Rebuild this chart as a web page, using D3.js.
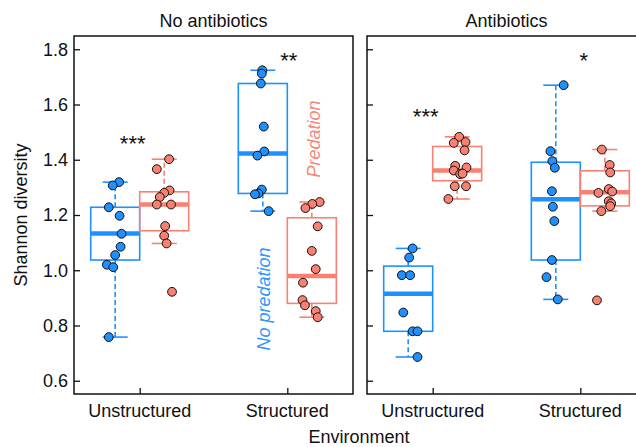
<!DOCTYPE html>
<html>
<head>
<meta charset="utf-8">
<script src="https://cdn.jsdelivr.net/npm/d3@7"></script>
<style>
  html, body { margin: 0; padding: 0; background: #fff; }
  svg { display: block; }
  text { font-family: "Liberation Sans", Arial, Helvetica, sans-serif; }
</style>
</head>
<body>
<svg id="chart" width="636" height="447"></svg>
<script>
// ---------------- data ----------------
const panels = ["No antibiotics", "Antibiotics"];
const environments = ["Unstructured", "Structured"];
const treatments = ["No predation", "Predation"];
const yTicks = [0.6, 0.8, 1.0, 1.2, 1.4, 1.6, 1.8];

// Shannon diversity of each replicate
const noAbUnstrNoPred = [1.319, 1.307, 1.228, 1.197, 1.132, 1.085, 1.055, 1.020, 1.011, 0.758];
const noAbUnstrPred   = [1.402, 1.366, 1.289, 1.280, 1.265, 1.238, 1.238, 1.160, 1.125, 1.097, 0.922];
const noAbStrNoPred   = [1.724, 1.712, 1.676, 1.520, 1.430, 1.415, 1.292, 1.278, 1.275, 1.214];
const noAbStrPred     = [1.247, 1.240, 1.225, 1.159, 1.070, 1.004, 0.955, 0.892, 0.873, 0.852, 0.830];
const abUnstrNoPred   = [1.079, 1.046, 0.982, 0.982, 0.847, 0.779, 0.779, 0.686];
const abUnstrPred     = [1.483, 1.461, 1.464, 1.434, 1.378, 1.372, 1.361, 1.348, 1.350, 1.304, 1.304, 1.258];
const abStrNoPred     = [1.670, 1.431, 1.395, 1.371, 1.286, 1.230, 1.178, 1.037, 0.975, 0.8945];
const abStrPred       = [1.437, 1.381, 1.354, 1.294, 1.280, 1.285, 1.250, 1.242, 1.232, 1.214, 0.891];

// horizontal jitter of each replicate (fraction of box width)
const jitNoAbUnstrNoPred = [0.08, -0.05, -0.13, 0.09, 0.13, 0.11, 0.0, -0.17, -0.04, -0.13];
const jitNoAbUnstrPred   = [0.10, -0.15, 0.11, 0.0, -0.09, -0.15, 0.14, 0.02, 0.0, 0.05, 0.16];
const jitNoAbStrNoPred   = [-0.01, -0.02, -0.04, 0.02, 0.03, -0.11, -0.02, -0.09, -0.16, 0.12];
const jitNoAbStrPred     = [0.16, 0.01, -0.13, 0.12, 0.0, 0.08, -0.18, -0.19, -0.14, 0.08, 0.12];
const jitAbUnstrNoPred   = [0.09, 0.02, -0.13, 0.04, -0.10, 0.09, 0.19, 0.19];
const jitAbUnstrPred     = [0.04, -0.07, 0.17, 0.15, -0.04, 0.19, -0.07, 0.06, 0.11, -0.05, 0.18, -0.18];
const jitAbStrNoPred     = [0.16, -0.11, -0.07, -0.02, -0.08, -0.06, -0.03, -0.08, -0.19, 0.04];
const jitAbStrPred       = [-0.06, 0.10, 0.11, 0.08, -0.13, 0.15, 0.08, 0.13, 0.11, -0.07, -0.16];

// box statistics, groups in order: panel x environment x treatment
const whiskerLow  = [0.758, 1.097, 1.214, 0.830, 0.686, 1.258, 0.8945, 1.214];
const quart1      = [1.037, 1.143, 1.278, 0.880, 0.779, 1.324, 1.037, 1.233];
const medians     = [1.133, 1.238, 1.423, 0.979, 0.915, 1.361, 1.257, 1.282];
const quart3      = [1.228, 1.284, 1.676, 1.190, 1.015, 1.448, 1.391, 1.360];
const whiskerHigh = [1.319, 1.402, 1.724, 1.247, 1.079, 1.483, 1.670, 1.437];

// significance labels (panel x environment)
const sigLabels = ["***", "**", "***", "*"];
const sigValue  = [1.478, 1.778, 1.576, 1.778];

// ---------------- build groups ----------------
const values = [noAbUnstrNoPred, noAbUnstrPred, noAbStrNoPred, noAbStrPred,
                abUnstrNoPred, abUnstrPred, abStrNoPred, abStrPred];
const jitters = [jitNoAbUnstrNoPred, jitNoAbUnstrPred, jitNoAbStrNoPred, jitNoAbStrPred,
                 jitAbUnstrNoPred, jitAbUnstrPred, jitAbStrNoPred, jitAbStrPred];
const groups = [];
let gi = 0;
panels.forEach(p => environments.forEach(e => treatments.forEach(t => {
  groups.push({panel: p, env: e, trt: t, vals: values[gi], jit: jitters[gi],
    lo: whiskerLow[gi], q1: quart1[gi], med: medians[gi], q3: quart3[gi], hi: whiskerHigh[gi]});
  gi++;
})));

// ---------------- layout ----------------
const svg = d3.select("#chart");
const plotTop = 36, plotBottom = 394;
const panelW = 279, panelGap = 14, left0 = 74;
const colors = {"No predation": "#1E90FF", "Predation": "#FA8072"};
const textColors = {"No predation": "#2E96FF", "Predation": "#F6877B"};
const fontSize = 18;

const panelX = d3.scaleBand().domain(panels)
  .range([left0, left0 + 2 * panelW + panelGap])
  .paddingInner(panelGap / (panelW + panelGap)).paddingOuter(0);

const y = d3.scaleLinear().domain([0.552, 1.848]).range([plotBottom, plotTop]);
const envX = d3.scalePoint().domain(environments).range([0, panelW]).padding(0.445);
const boxW = 49;
const trtX = d3.scaleBand().domain(treatments).range([-boxW, boxW]).padding(0);

// axis titles
svg.append("text").attr("transform", "translate(27,215) rotate(-90)")
  .attr("text-anchor", "middle").attr("font-size", fontSize).attr("fill", "#111")
  .text("Shannon diversity");
svg.append("text").attr("x", 359).attr("y", 443)
  .attr("text-anchor", "middle").attr("font-size", fontSize).attr("fill", "#111")
  .text("Environment");

const sigDx = [[-7, 1.5], [-7, 3.5]];

panels.forEach((p, pi) => {
  const px = panelX(p);
  const g = svg.append("g").attr("transform", `translate(${px},0)`);

  // panel title
  g.append("text").attr("x", panelW / 2).attr("y", 27)
    .attr("text-anchor", "middle").attr("font-size", fontSize).attr("fill", "#111").text(p);

  // y axis (ticks inward)
  const yAxis = d3.axisRight(y).tickValues(yTicks).tickSize(6).tickFormat("");
  const ya = g.append("g").call(yAxis);
  ya.select(".domain").remove();
  ya.selectAll("line").attr("stroke", "#111").attr("stroke-width", 1.3);
  if (pi === 0) {
    g.append("g").selectAll("text").data(yTicks).join("text")
      .attr("x", -6).attr("y", d => y(d)).attr("dy", "0.36em")
      .attr("text-anchor", "end").attr("font-size", fontSize).attr("fill", "#111")
      .text(d3.format(".1f"));
  }

  // x axis (ticks inward)
  const xAxis = d3.axisTop(envX).tickSize(6).tickFormat("");
  const xa = g.append("g").attr("transform", `translate(0,${plotBottom})`).call(xAxis);
  xa.select(".domain").remove();
  xa.selectAll("line").attr("stroke", "#111").attr("stroke-width", 1.3);
  g.append("g").selectAll("text").data(environments).join("text")
    .attr("x", d => envX(d)).attr("y", 417)
    .attr("text-anchor", "middle").attr("font-size", fontSize).attr("fill", "#111")
    .text(d => d);

  // frame
  g.append("rect").attr("x", 0).attr("y", plotTop).attr("width", panelW).attr("height", plotBottom - plotTop)
    .attr("fill", "none").attr("stroke", "#111").attr("stroke-width", 1.5);

  // boxes
  const pg = groups.filter(d => d.panel === p);
  pg.forEach(d => {
    const x0 = envX(d.env) + trtX(d.trt);
    const cx = x0 + trtX.bandwidth() / 2;
    const col = colors[d.trt];
    const bg = g.append("g");
    bg.append("line").attr("x1", cx).attr("x2", cx).attr("y1", y(d.q3)).attr("y2", y(d.hi))
      .attr("stroke", col).attr("stroke-width", 1.6).attr("stroke-dasharray", "5,3");
    bg.append("line").attr("x1", cx).attr("x2", cx).attr("y1", y(d.q1)).attr("y2", y(d.lo))
      .attr("stroke", col).attr("stroke-width", 1.6).attr("stroke-dasharray", "5,3");
    [d.hi, d.lo].forEach(v => {
      bg.append("line").attr("x1", cx - 12.5).attr("x2", cx + 12.5).attr("y1", y(v)).attr("y2", y(v))
        .attr("stroke", col).attr("stroke-width", 1.6);
    });
    bg.append("rect").attr("x", x0).attr("y", y(d.q3)).attr("width", trtX.bandwidth())
      .attr("height", y(d.q1) - y(d.q3)).attr("fill", "none")
      .attr("stroke", col).attr("stroke-width", 1.6);
    bg.append("line").attr("x1", x0).attr("x2", x0 + trtX.bandwidth()).attr("y1", y(d.med)).attr("y2", y(d.med))
      .attr("stroke", col).attr("stroke-width", 4.5);
  });

  // points
  pg.forEach(d => {
    const cx = envX(d.env) + trtX(d.trt) + trtX.bandwidth() / 2;
    g.append("g").selectAll("circle").data(d.vals.map((v, i) => ({v, j: d.jit[i]})))
      .join("circle")
      .attr("cx", e => cx + e.j * trtX.bandwidth())
      .attr("cy", e => y(e.v))
      .attr("r", 4.4)
      .attr("fill", colors[d.trt]).attr("stroke", "#111").attr("stroke-width", 1);
  });

  // significance
  environments.forEach((e, ei) => {
    const k = pi * 2 + ei;
    const fs = 22;
    g.append("text").attr("x", envX(e) + sigDx[pi][ei])
      .attr("y", y(sigValue[k]) + 0.575 * fs)
      .attr("text-anchor", "middle").attr("font-size", fs).attr("fill", "#111")
      .text(sigLabels[k]);
  });

  // in-panel treatment labels
  if (pi === 0) {
    g.append("text").attr("transform", `translate(${264 - px},299) rotate(-90)`)
      .attr("dy", "0.35em").attr("text-anchor", "middle")
      .attr("font-size", fontSize).attr("font-style", "italic").attr("fill", textColors["No predation"])
      .text("No predation");
    g.append("text").attr("transform", `translate(${314 - px},139) rotate(-90)`)
      .attr("dy", "0.35em").attr("text-anchor", "middle")
      .attr("font-size", fontSize).attr("font-style", "italic").attr("fill", textColors["Predation"])
      .text("Predation");
  }
});
</script>
</body>
</html>
